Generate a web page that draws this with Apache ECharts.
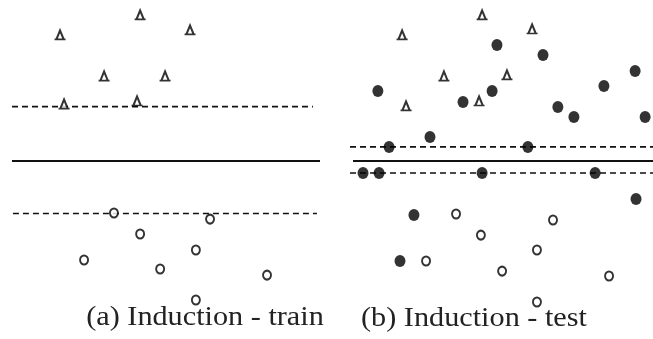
<!DOCTYPE html>
<html>
<head>
<meta charset="utf-8">
<script src="https://cdn.jsdelivr.net/npm/echarts@6/dist/echarts.min.js"></script>
<style>html,body{margin:0;padding:0;background:#fff}#c{width:653px;height:339px}</style>
</head>
<body>
<div id="c"></div>
<script>
// Panel (a) Induction - train : [x, y] in abstract units (x 0..100, y -100..100, boundary at 0)
const trainTriangles = [[41.6,91.3],[15.6,78.8],[57.8,81.9],[29.9,53.1],[49.7,53.1],[16.9,35.6],[40.6,37.5]];
const trainCircles = [[33.1,-32.5],[64.3,-36.3],[41.6,-45.6],[59.7,-55.6],[23.4,-61.9],[48.1,-67.5],[82.8,-71.3],[59.7,-86.9]];
const trainBoundary = [[0,0],[100,0]];
const trainMarginUpper = [[0,34],[97.7,34]];
const trainMarginLower = [[0.3,-32.8],[99,-32.8]];

// Panel (b) Induction - test
const testTriangles = [[43.6,91.3],[17.2,78.8],[60.1,82.5],[31.0,53.1],[51.8,53.8],[18.5,34.4],[42.6,37.5]];
const testCircles = [[35.0,-33.1],[67.0,-36.9],[43.2,-46.3],[61.7,-55.6],[25.1,-62.5],[50.2,-68.8],[85.5,-71.9],[61.7,-88.1]];
const testUnlabeled = [[48.5,72.5],[63.7,66.3],[94.1,56.3],[9.2,43.8],[83.8,46.9],[46.9,43.8],[37.3,36.9],[68.6,33.8],[73.9,27.5],[97.4,27.5],[26.4,15],[12.9,8.75],[58.7,8.75],[4.3,-7.5],[9.6,-7.5],[43.6,-7.5],[80.9,-7.5],[94.4,-23.8],[21.1,-33.8],[16.5,-62.5]];
const testBoundary = [[1,0],[100,0]];
const testMarginUpper = [[0,8.8],[100,8.8]];
const testMarginLower = [[0,-7.5],[100,-7.5]];

const captions = ['(a) Induction - train', '(b) Induction - test'];

const chart = echarts.init(document.getElementById('c'), null, {renderer:'canvas'});
const axisX = i => ({type:'value', gridIndex:i, min:0, max:100, show:false});
const axisY = i => ({type:'value', gridIndex:i, min:-100, max:100, show:false});

const triSym = 'path://M6,0 L10,8.5 L2,8.5 Z M0,8.5 L12,8.5';
function lineSeries(data, i, dashed) {
  return {type:'line', xAxisIndex:i, yAxisIndex:i, data:data, symbol:'none', silent:true,
    lineStyle:{color:'#111', width: dashed ? 1.7 : 2, type: dashed ? [6,4] : 'solid'}, z:1};
}
function triSeries(data, i) {
  return {type:'scatter', xAxisIndex:i, yAxisIndex:i, data:data, symbol:triSym, symbolSize:[11,9],
    itemStyle:{color:'#fff', borderColor:'#000', borderWidth:1.9}, z:3};
}
function circSeries(data, i) {
  return {type:'scatter', xAxisIndex:i, yAxisIndex:i, data:data, symbol:'circle', symbolSize:[8,9],
    itemStyle:{color:'#fff', borderColor:'#000', borderWidth:2}, z:3};
}
function dotSeries(data, i) {
  return {type:'scatter', xAxisIndex:i, yAxisIndex:i, data:data, symbol:'circle', symbolSize:[11,12],
    itemStyle:{color:'#000'}, z:4};
}

chart.setOption({
  animation:false,
  backgroundColor:'#fff',
  grid:[
    {left:12, top:1, width:308, height:320},
    {left:350, top:1, width:303, height:320}
  ],
  xAxis:[axisX(0), axisX(1)],
  yAxis:[axisY(0), axisY(1)],
  series:[
    lineSeries(trainBoundary,0,false),
    lineSeries(trainMarginUpper,0,true),
    lineSeries(trainMarginLower,0,true),
    triSeries(trainTriangles,0),
    circSeries(trainCircles,0),
    lineSeries(testBoundary,1,false),
    lineSeries(testMarginUpper,1,true),
    lineSeries(testMarginLower,1,true),
    triSeries(testTriangles,1),
    circSeries(testCircles,1),
    dotSeries(testUnlabeled,1)
  ],
  graphic:[
    {type:'text', x:205, y:318, scaleX:1.12, z:10,
      style:{text:captions[0], x:0, y:0, textAlign:'center', textVerticalAlign:'middle',
        font:'27px "Liberation Serif", "DejaVu Serif", serif', fill:'#222'}},
    {type:'text', x:474, y:319, scaleX:1.12, z:10,
      style:{text:captions[1], x:0, y:0, textAlign:'center', textVerticalAlign:'middle',
        font:'27px "Liberation Serif", "DejaVu Serif", serif', fill:'#222'}}
  ]
});
</script>
</body>
</html>
